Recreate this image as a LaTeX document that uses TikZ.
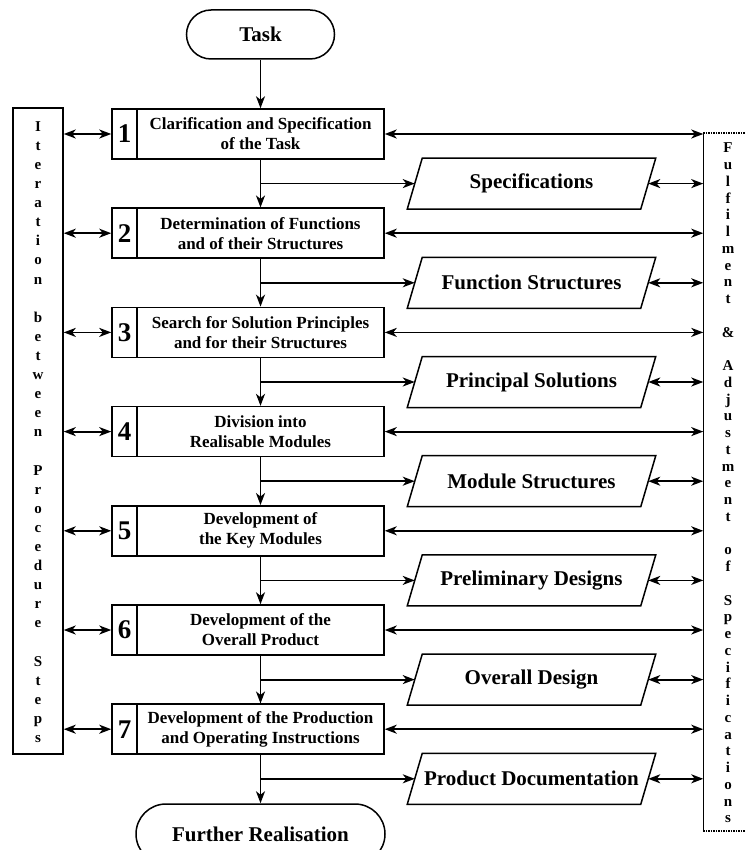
\documentclass[tikz,border=0pt]{standalone}
\usepackage{fontspec}
\setmainfont{Liberation Serif}
\usetikzlibrary{arrows.meta,shapes.misc}

\begin{document}
\begin{tikzpicture}[x=1pt,y=-1pt,
  line width=1.5pt,
  tip/.tip={Stealth[length=12pt,width=9pt,inset=3.5pt]},
  terminal/.style={rounded rectangle, draw, inner sep=0pt,
    font=\fontsize{21}{23}\selectfont\bfseries},
  numbox/.style={draw, minimum width=25pt, minimum height=50pt, inner sep=0pt,
    font=\fontsize{27}{29}\selectfont\bfseries},
  stepbox/.style={draw, minimum width=247pt, minimum height=50pt, inner sep=0pt,
    align=center, font=\fontsize{17}{20}\selectfont\bfseries},
  docbox/.style={minimum width=247pt, minimum height=49.5pt, inner sep=0pt,
    font=\fontsize{21}{23}\selectfont\bfseries},
  flow/.style={-tip, line width=1.8pt},
  link/.style={tip-tip, line width=1.8pt},
]
\useasboundingbox (0,0) rectangle (744,850);

% start and end terminals
\node[terminal, minimum width=148pt, minimum height=49pt] (task) at (260.5,34.5) {Task};
\node[terminal, minimum width=249pt, minimum height=60pt] (fr) at (260.5,834) {Further Realisation};

% the seven procedure steps
\foreach \i/\txt in {
  1/{Clarification and Specification\\of the Task},
  2/{Determination of Functions\\and of their Structures},
  3/{Search for Solution Principles\\and for their Structures},
  4/{Division into\\Realisable Modules},
  5/{Development of\\the Key Modules},
  6/{Development of the\\Overall Product},
  7/{Development of the Production\\and Operating Instructions}} {
  \pgfmathsetmacro\yy{134+(\i-1)*99.2}
  \node[numbox] (n\i) at (124.5,\yy) {\i};
  \node[stepbox] (t\i) at (260.5,\yy) {\txt};
}

% results of each step
\foreach \i/\txt in {
  1/Specifications,
  2/Function Structures,
  3/Principal Solutions,
  4/Module Structures,
  5/Preliminary Designs,
  6/Overall Design,
  7/Product Documentation} {
  \pgfmathsetmacro\yy{183.6+(\i-1)*99.2}
  \node[docbox] (p\i) at (531.5,\yy) {\txt};
  \draw ([xshift=15pt]p\i.north west) -- (p\i.north east)
     -- ([xshift=-15pt]p\i.south east) -- (p\i.south west) -- cycle;
  \coordinate (pl\i) at ([xshift=7.5pt]p\i.west);
  \coordinate (pr\i) at ([xshift=-7.5pt]p\i.east);
}

% iteration column on the left
\node[draw, minimum width=50pt, minimum height=646pt, inner sep=0pt] (it) at (38,431) {};
\node[align=center, inner sep=0pt, font=\fontsize{15}{19.1}\selectfont\bfseries] (ittx) at (38,432)
  {I\\t\\e\\r\\a\\t\\i\\o\\n\\[19.1pt]b\\e\\t\\w\\e\\e\\n\\[19.1pt]P\\r\\o\\c\\e\\d\\u\\r\\e\\[19.1pt]S\\t\\e\\p\\s};

% fulfilment column on the right
\node[minimum width=52pt, minimum height=696pt, inner sep=0pt] (fa) at (730,482) {};
\draw (fa.north west) -- (fa.south west);
\draw[densely dotted] (fa.north west) -- (fa.north east);
\draw[densely dotted] (fa.south west) -- (fa.south east);
\node[align=center, inner sep=0pt, font=\fontsize{15}{16.75}\selectfont\bfseries] (fatx) at (728,483)
  {F\\u\\l\\f\\i\\l\\m\\e\\n\\t\\[16.75pt]\&\\[16.75pt]A\\d\\j\\u\\s\\t\\m\\e\\n\\t\\[16.75pt]o\\f\\[16.75pt]S\\p\\e\\c\\i\\f\\i\\c\\a\\t\\i\\o\\n\\s};

% main flow
\draw[flow] (task.south) -- (t1.north);
\foreach \i [count=\j from 2] in {1,...,6}
  \draw[flow] (t\i.south) -- (t\j.north);
\draw[flow] (t7.south) -- (fr.north);

% branches and feedback links
\foreach \i in {1,...,7} {
  \coordinate (j\i) at (t\i.south |- pl\i);
  \draw[flow] (j\i) -- (pl\i);
  \draw[link] (it.east |- n\i.west) -- (n\i.west);
  \draw[link] (t\i.east) -- (fa.west |- t\i.east);
  \draw[link] (pr\i) -- (fa.west |- pr\i);
}
\end{tikzpicture}
\end{document}
